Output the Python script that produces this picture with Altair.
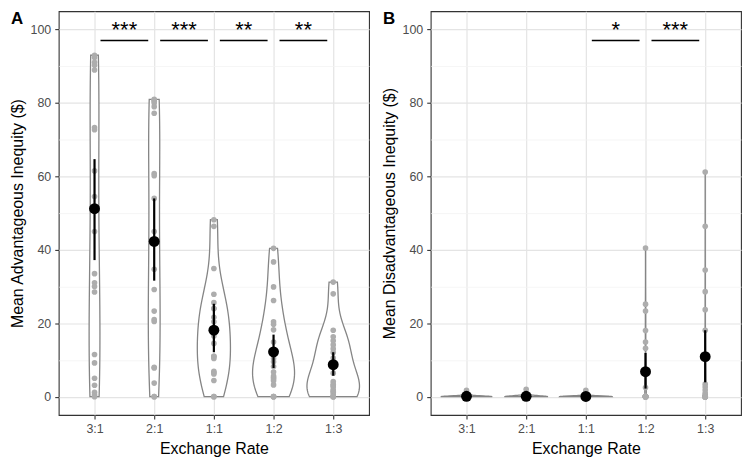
import json
import altair as alt
import pandas as pd

categories = ["3:1", "2:1", "1:1", "1:2", "1:3"]

# Panel A: mean advantageous inequity per participant
adv_31 = [93.0, 92.4, 91.1, 90.3, 89.0, 73.3, 72.7, 61.5, 54.5, 45.0, 33.5, 31.0,
          30.0, 28.5, 11.5, 9.2, 5.0, 3.1, 1.2, 0.5, 0.0]
adv_21 = [81.0, 80.8, 80.5, 80.0, 79.0, 77.2, 60.8, 60.2, 54.0, 45.0, 41.5, 34.7,
          29.2, 23.3, 21.0, 20.5, 8.0, 7.8, 3.7, 0.0, 0.0]
adv_11 = [48.2, 46.4, 34.9, 27.9, 25.6, 24.0, 24.0, 21.6, 20.4, 18.5, 16.5, 14.5,
          11.0, 11.0, 10.4, 6.9, 6.5, 6.2, 4.4, 0.0, 0.0]
adv_12 = [40.4, 36.7, 29.9, 26.2, 20.4, 19.7, 18.2, 14.9, 12.8, 10.4, 9.5, 8.2,
          6.7, 5.6, 5.2, 4.8, 4.3, 3.2, 0.0, 0.0, 0.0]
adv_13 = [31.2, 28.0, 18.1, 16.3, 15.2, 14.1, 13.0, 12.0, 10.5, 6.4, 4.1, 3.4,
          3.0, 2.6, 1.8, 1.5, 1.1, 0.5, 0.0, 0.0, 0.0]
adv_means = [51.2, 42.3, 18.1, 12.2, 8.7]
adv_lower = [37.2, 31.6, 12.1, 7.8, 5.7]
adv_upper = [64.7, 54.0, 25.3, 16.9, 12.1]
adv_sig_from = ["3:1", "2:1", "1:1", "1:2"]
adv_sig_to = ["2:1", "1:1", "1:2", "1:3"]
adv_sig_label = ["***", "***", "**", "**"]

# Panel B: mean disadvantageous inequity per participant
dis_31 = [1.7, 0.3, 0.0, 0.0, 0.0, 0.0, 0.0, 0.0, 0.0, 0.0, 0.0, 0.0, 0.0, 0.0,
          0.0, 0.0, 0.0, 0.0, 0.0, 0.0, 0.0]
dis_21 = [2.0, 0.4, 0.0, 0.0, 0.0, 0.0, 0.0, 0.0, 0.0, 0.0, 0.0, 0.0, 0.0, 0.0,
          0.0, 0.0, 0.0, 0.0, 0.0, 0.0, 0.0]
dis_11 = [1.7, 0.0, 0.0, 0.0, 0.0, 0.0, 0.0, 0.0, 0.0, 0.0, 0.0, 0.0, 0.0, 0.0,
          0.0, 0.0, 0.0, 0.0, 0.0, 0.0, 0.0]
dis_12 = [40.5, 25.2, 23.3, 18.0, 14.9, 13.2, 2.5, 0.0, 0.0, 0.0, 0.0, 0.0, 0.0,
          0.0, 0.0, 0.0, 0.0, 0.0, 0.0, 0.0, 0.0]
dis_13 = [61.2, 46.4, 34.5, 28.6, 23.7, 18.1, 3.4, 2.6, 1.8, 1.0, 0.5, 0.0, 0.0,
          0.0, 0.0, 0.0, 0.0, 0.0, 0.0, 0.0, 0.0]
dis_means = [0.1, 0.1, 0.05, 6.8, 10.9]
dis_lower = [0.0, 0.0, 0.0, 2.2, 3.9]
dis_upper = [0.25, 0.25, 0.15, 11.9, 18.1]
dis_sig_from = ["1:1", "1:2"]
dis_sig_to = ["1:2", "1:3"]
dis_sig_label = ["*", "***"]

sig_bar_y = 97.0
sig_text_y = 99.8

FONT = "Liberation Sans"
W, H = 312, 406

xscale = alt.Scale(domain=[0.4, 5.6], nice=False, zero=False)
yscale = alt.Scale(domain=[-5, 105], nice=False, zero=False)

xaxis = alt.Axis(
    values=[1, 2, 3, 4, 5],
    labelExpr=json.dumps(categories) + "[datum.value - 1]",
    grid=True, gridColor="#e4e4e4", gridWidth=1.2,
)
yaxis = alt.Axis(
    values=list(range(0, 101, 10)),
    labelExpr="datum.value % 20 === 0 ? datum.label : ''",
    grid=True,
    gridColor={"condition": {"test": "datum.value % 20 === 0", "value": "#e4e4e4"}, "value": "#f3f3f3"},
    gridWidth={"condition": {"test": "datum.value % 20 === 0", "value": 1.2}, "value": 0.8},
    tickOpacity={"condition": {"test": "datum.value % 20 === 0", "value": 1}, "value": 0},
)


def X(field):
    return alt.X(field, type="quantitative", scale=xscale, axis=xaxis, title="Exchange Rate")


def Y(field, title):
    return alt.Y(field, type="quantitative", scale=yscale, axis=yaxis, title=title)


def panel(groups, means, lower, upper, sfrom, sto, slabel, ytitle, letter):
    rows = []
    for i, vals in enumerate(groups):
        for v in vals:
            rows.append({"idx": i + 1, "value": v})
    df = pd.DataFrame(rows)
    mdf = pd.DataFrame({"idx": list(range(1, len(categories) + 1)),
                        "mean": means, "lower": lower, "upper": upper})
    sdf = pd.DataFrame({
        "a": [categories.index(c) + 1 for c in sfrom],
        "b": [categories.index(c) + 1 for c in sto],
        "label": slabel,
        "bar_y": [sig_bar_y] * len(slabel),
        "text_y": [sig_text_y] * len(slabel),
    })

    violin = alt.Chart(df).transform_density(
        "value", groupby=["idx"], as_=["value", "density"], resolve="independent"
    ).transform_joinaggregate(
        maxd="max(density)"
    ).transform_calculate(
        left="datum.idx - 0.44 * datum.density / datum.maxd",
        right="datum.idx + 0.44 * datum.density / datum.maxd",
    ).mark_area(
        orient="horizontal", fill="white", stroke="#858585", strokeWidth=1.3
    ).encode(
        y=Y("value", ytitle), x=X("left"), x2="right:Q", detail="idx:N"
    )

    pts = alt.Chart(df).mark_circle(size=32, color="#adadad", opacity=1).encode(
        x=X("idx"), y=Y("value", ytitle)
    )
    err = alt.Chart(mdf).mark_rule(color="black", strokeWidth=2.2).encode(
        x=X("idx"), y=Y("lower", ytitle), y2="upper:Q"
    )
    mean = alt.Chart(mdf).mark_circle(size=120, color="black", opacity=1).encode(
        x=X("idx"), y=Y("mean", ytitle)
    )
    bars = alt.Chart(sdf).transform_calculate(
        x1="datum.a + 0.1", x2="datum.b - 0.1"
    ).mark_rule(color="black", strokeWidth=1.6).encode(
        x=X("x1"), x2="x2:Q", y=Y("bar_y", ytitle)
    )
    stars = alt.Chart(sdf).transform_calculate(
        xm="(datum.a + datum.b) / 2"
    ).mark_text(fontSize=22, font=FONT, baseline="middle", color="black").encode(
        x=X("xm"), y=Y("text_y", ytitle), text="label:N"
    )
    lab = alt.Chart(pd.DataFrame({"t": [letter]})).mark_text(
        align="left", baseline="top", fontSize=17, fontWeight="bold", font=FONT, color="black"
    ).encode(text="t:N", x=alt.value(-48), y=alt.value(0))

    return alt.layer(violin, pts, err, mean, bars, stars, lab).properties(width=W, height=H)


pA = panel([adv_31, adv_21, adv_11, adv_12, adv_13], adv_means, adv_lower, adv_upper,
           adv_sig_from, adv_sig_to, adv_sig_label, "Mean Advantageous Inequity ($)", "A")
pB = panel([dis_31, dis_21, dis_11, dis_12, dis_13], dis_means, dis_lower, dis_upper,
           dis_sig_from, dis_sig_to, dis_sig_label, "Mean Disadvantageous Inequity ($)", "B")

chart = alt.hconcat(pA, pB, spacing=10).properties(
    padding=0, background="white"
).configure_view(
    stroke="#333333", strokeWidth=1.1
).configure_axis(
    domain=False, tickColor="#333333", tickSize=4, tickWidth=1.1,
    labelColor="#4d4d4d", labelFont=FONT, labelFontSize=12.5, labelPadding=4,
    titleFont=FONT, titleFontSize=16, titleFontWeight="normal", titleColor="black",
    titlePadding=5,
)

chart.save("out.html", embed_options={"renderer": "svg", "actions": False})
